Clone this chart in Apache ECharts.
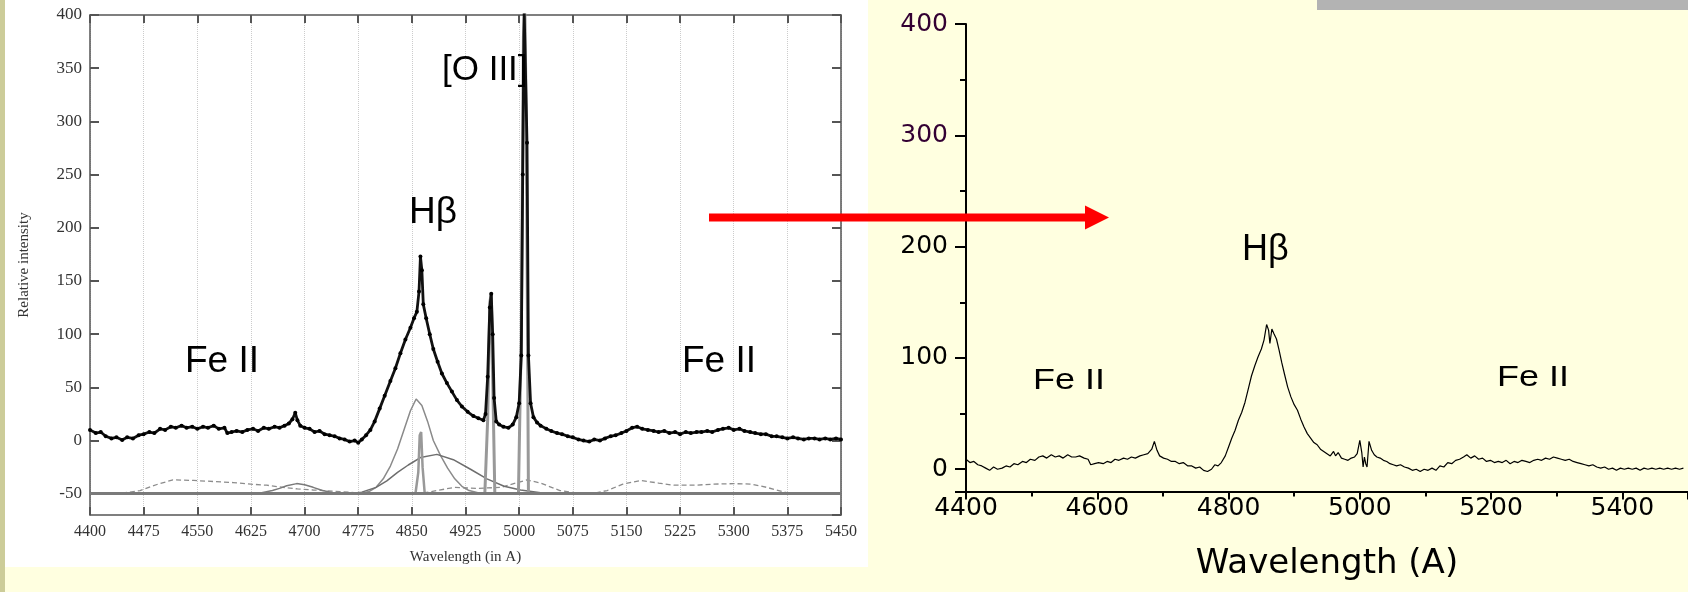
<!DOCTYPE html>
<html>
<head>
<meta charset="utf-8">
<script src="https://cdn.jsdelivr.net/npm/echarts@6/dist/echarts.min.js"></script>
<style>
  html, body { margin: 0; padding: 0; background: #ffffe0; }
  #chart { width: 1688px; height: 592px; }
</style>
</head>
<body>
<div id="chart"></div>
<script>
// left panel: observed spectrum (dots) and fitted components
var leftWave = [4400,4408,4415,4422,4430,4437,4445,4452,4460,4468,4475,4483,4490,4498,4505,4513,4520,4528,4535,4543,
  4550,4558,4565,4573,4580,4588,4592,4598,4605,4613,4620,4628,4635,4643,4650,4658,4665,4672,4678,4683,
  4687,4690,4694,4700,4707,4714,4721,4728,4735,4742,4749,4756,4763,4770,4775,4780,4786,4792,4798,4805,
  4812,4820,4827,4834,4841,4848,4853,4857,4860,4862,4864,4866,4870,4875,4880,4886,4892,4899,4906,4913,
  4920,4928,4936,4943,4950,4953,4956,4959,4961,4963,4965,4968,4972,4978,4985,4991,4996,5000,5003,5005,
  5007,5009,5011,5013,5016,5020,5025,5030,5038,5045,5053,5060,5068,5075,5083,5090,5098,5105,5113,5120,
  5128,5135,5143,5150,5158,5165,5172,5180,5188,5195,5203,5210,5218,5225,5233,5240,5248,5255,5263,5270,
  5278,5285,5293,5300,5308,5315,5323,5330,5338,5345,5353,5360,5368,5375,5383,5390,5398,5405,5413,5420,
  5428,5435,5443,5450];
var leftFlux = [10,7,8,4,2,3,0.5,3,2,5,6,8,7,11,10,13,12,14,12,13,
  11,13,12,14,11,12,7,8,9,8,10,11,9,12,11,13,12,14,16,20,
  26,19,14,12,11,8,9,6,5,4,2,1,-1,0,-2,1,5,10,18,30,
  42,56,68,82,95,106,115,121,140,173,160,128,115,100,86,74,63,54,46,38,
  32,27,23,21,19,25,60,125,138,100,40,18,15,13,12,15,22,35,80,250,
  405,405,280,80,35,22,17,14,11,9,7,6,4,3,1,0,-1,1,0,2,
  4,5,7,9,12,13,11,10,9,8,9,7,8,6,8,7,8,8,9,8,
  10,11,12,10,11,9,8,7,6,6,4,4,3,2,3,2,1,2,2,1,
  2,1,2,1];

var hbBroadWave = [4760,4780,4790,4800,4810,4820,4830,4840,4848,4856,4864,4872,4880,4890,4900,4910,4920,4930,4945,4960];
var hbBroadFlux = [-50,-49.5,-48,-44,-36,-24,-8,12,28,39,33,18,0,-14,-26,-36,-43,-47,-49.5,-50];

var wideWave = [4760,4780,4800,4815,4830,4845,4862,4885,4908,4932,4955,4979,5002,5030,5060];
var wideFlux = [-50,-48.5,-44,-38,-30,-23,-16,-13,-18,-27,-36,-43,-46.5,-49,-50];

var heWave = [4620,4640,4655,4665,4675,4689,4700,4712,4725,4740,4760];
var heFlux = [-50,-49,-47,-45,-42.5,-40.5,-41.5,-44,-47,-49,-50];

var hbNarrowWave = [4855,4859,4861,4863,4865,4868];
var hbNarrowFlux = [-50,-30,5,8,-25,-50];

var o3aWave = [4952,4956,4959,4961,4963,4966];
var o3aFlux = [-50,20,130,138,60,-50];

var o3bWave = [4999,5003,5006,5008,5010,5013];
var o3bFlux = [-50,100,380,405,300,-50];

var feWave = [4400,4440,4470,4495,4516,4545,4572,4600,4625,4647,4670,4690,4712,4750,4787,4860,4885,4910,4940,4975,
  4995,5011,5030,5057,5085,5105,5123,5145,5170,5195,5216,5245,5272,5300,5325,5346,5374,5395,5450];
var feFlux = [-50,-50,-47,-41,-37,-37.5,-38.5,-39.5,-41,-42,-44,-45.5,-46.5,-48,-50,-50,-47,-44,-45,-44,
  -40,-37,-40,-47,-50,-49.5,-47,-41,-37.5,-40,-42,-42,-41,-40.5,-41,-44,-49,-50,-50];

// right panel: spectrum
var rightWave = [4400,4406,4412,4418,4424,4430,4436,4442,4448,4455,4461,4467,4473,4479,4486,4492,4498,4505,4511,4517,
  4523,4530,4536,4542,4548,4555,4561,4567,4573,4580,4586,4590,4596,4602,4609,4615,4621,4627,4633,4640,
  4646,4652,4658,4665,4671,4677,4683,4687,4691,4695,4701,4707,4713,4719,4725,4731,4738,4744,4750,4756,
  4762,4768,4774,4779,4784,4789,4795,4800,4805,4810,4815,4820,4825,4830,4835,4840,4845,4850,4854,4858,
  4861,4863,4866,4869,4873,4877,4881,4885,4890,4895,4900,4905,4910,4915,4920,4925,4930,4935,4940,4945,
  4950,4955,4960,4963,4967,4972,4977,4982,4987,4992,4996,5000,5003,5005,5007,5009,5011,5014,5018,5022,
  5026,5031,5036,5041,5046,5051,5056,5062,5068,5074,5080,5086,5092,5098,5104,5110,5116,5122,5128,5134,
  5140,5146,5152,5158,5163,5169,5175,5181,5187,5193,5199,5205,5211,5217,5223,5229,5235,5241,5247,5253,
  5259,5265,5271,5277,5283,5289,5295,5301,5307,5313,5319,5325,5331,5337,5343,5349,5355,5361,5367,5373,
  5379,5385,5391,5397,5403,5409,5415,5421,5427,5433,5439,5445,5451,5457,5463,5469,5475,5481,5487,5493];
var rightFlux = [9,6,7,4,3,1,-1,2,0,1,3,2,5,4,7,6,9,8,11,12,
  10,13,11,12,10,13,11,11,12,10,9,4,5,6,5,7,6,9,8,10,
  9,11,10,12,13,14,18,25,17,12,10,9,7,7,5,6,3,3,1,2,
  -1,-2,0,4,3,6,12,20,28,35,44,51,60,72,84,93,101,108,116,130,
  125,113,126,122,117,107,96,86,74,65,58,53,45,38,32,28,24,22,18,16,
  14,12,16,12,15,10,9,8,10,11,14,26,15,2,11,5,2,25,17,13,
  11,10,8,7,5,4,3,4,2,1,-1,0,-2,0,-1,1,-1,3,2,6,
  5,8,9,11,13,10,12,9,10,7,8,6,7,6,8,5,7,6,8,7,
  6,8,9,8,10,9,11,10,9,8,9,7,6,5,4,3,4,2,1,2,
  0,1,-1,1,0,1,0,1,-1,1,0,1,0,1,0,1,0,1,0,1];

function pairs(xs, ys) {
    return xs.map(function (x, i) { return [x, ys[i]]; });
}

function plain(v) {
    return String(v);
}

var serif = 'Liberation Serif';

function grayLine(name, xs, ys, color, width, type) {
    return {
        name: name, type: 'line', xAxisIndex: 0, yAxisIndex: 0,
        data: pairs(xs, ys), showSymbol: false, smooth: false, z: 3,
        lineStyle: { color: color, width: width, type: type || 'solid' }
    };
}

var feSeries = grayLine('Fe II', feWave, feFlux, '#8c8c8c', 1.3, [5, 3]);
feSeries.markLine = {
    silent: true, symbol: 'none', label: { show: false },
    lineStyle: { color: '#7a7a7a', width: 3, type: 'solid' },
    data: [{ yAxis: -50 }]
};

var option = {
    backgroundColor: '#ffffe0',
    animation: false,
    grid: [
        { left: 90, top: 15, width: 751, height: 500 },
        { left: 966, top: 24, width: 728, height: 467.5 }
    ],
    xAxis: [
        {
            gridIndex: 0, type: 'value', min: 4400, max: 5450, interval: 75, position: 'bottom',
            axisLine: { onZero: false, lineStyle: { color: '#555', width: 1.5 } },
            axisTick: { inside: true, length: 8, lineStyle: { color: '#555', width: 2 } },
            axisLabel: { fontFamily: serif, fontSize: 16, color: '#333', margin: 9, formatter: plain },
            splitLine: { show: true, lineStyle: { type: 'dotted', color: '#cccccc' } },
            name: 'Wavelength (in A)', nameLocation: 'middle', nameGap: 35,
            nameTextStyle: { fontFamily: serif, fontSize: 15, color: '#333' }
        },
        {
            gridIndex: 0, type: 'value', min: 4400, max: 5450, interval: 75, position: 'top',
            axisLine: { onZero: false, lineStyle: { color: '#555', width: 1.5 } },
            axisTick: { inside: true, length: 8, lineStyle: { color: '#555', width: 2 } },
            axisLabel: { show: false }, splitLine: { show: false }
        },
        {
            gridIndex: 1, type: 'value', min: 4400, max: 5500, interval: 200, position: 'bottom',
            axisLine: { onZero: false, lineStyle: { color: '#000', width: 2 } },
            axisTick: { length: 8, lineStyle: { color: '#000', width: 2 } },
            minorTick: { show: true, splitNumber: 2, length: 5, lineStyle: { color: '#000', width: 2 } },
            axisLabel: { fontFamily: 'DejaVu Sans', fontSize: 25, color: '#000', margin: 4, showMaxLabel: false, formatter: plain },
            splitLine: { show: false },
            name: 'Wavelength (A)', nameLocation: 'middle', nameGap: 56,
            nameTextStyle: { fontFamily: 'DejaVu Sans', fontSize: 34, color: '#000' }
        }
    ],
    yAxis: [
        {
            gridIndex: 0, type: 'value', min: -70, max: 400, minInterval: 50, maxInterval: 50,
            axisLine: { onZero: false, lineStyle: { color: '#555', width: 1.5 } },
            axisTick: { inside: true, length: 9, lineStyle: { color: '#555', width: 2 } },
            axisLabel: { fontFamily: serif, fontSize: 17, color: '#333', margin: 8, showMinLabel: false, formatter: plain },
            splitLine: { show: false },
            name: 'Relative intensity', nameLocation: 'middle', nameGap: 58,
            nameTextStyle: { fontFamily: serif, fontSize: 15, color: '#333' }
        },
        {
            gridIndex: 0, type: 'value', min: -70, max: 400, minInterval: 50, maxInterval: 50, position: 'right',
            axisLine: { onZero: false, lineStyle: { color: '#555', width: 1.5 } },
            axisTick: { inside: true, length: 9, lineStyle: { color: '#555', width: 2 } },
            axisLabel: { show: false }, splitLine: { show: false }
        },
        {
            gridIndex: 1, type: 'value', min: -20, max: 400, minInterval: 100, maxInterval: 100,
            axisLine: { onZero: false, lineStyle: { color: '#000', width: 2 } },
            axisTick: { length: 11, lineStyle: { color: '#000', width: 2 } },
            minorTick: { show: true, splitNumber: 2, length: 6, lineStyle: { color: '#000', width: 2 } },
            axisLabel: {
                fontFamily: 'DejaVu Sans', fontSize: 25, margin: 18, showMinLabel: false, formatter: plain,
                color: function (v) { return Number(v) >= 300 ? '#330033' : '#000'; }
            },
            splitLine: { show: false }
        }
    ],
    series: [
        feSeries,
        grayLine('Hβ broad', hbBroadWave, hbBroadFlux, '#8a8a8a', 1.5),
        grayLine('Hβ wide', wideWave, wideFlux, '#6e6e6e', 1.5),
        grayLine('He II', heWave, heFlux, '#7a7a7a', 1.5),
        grayLine('Hβ narrow', hbNarrowWave, hbNarrowFlux, '#999', 2.5),
        grayLine('[O III] 4959', o3aWave, o3aFlux, '#999', 3),
        grayLine('[O III] 5007', o3bWave, o3bFlux, '#999', 3),
        {
            name: 'observed', type: 'line', xAxisIndex: 0, yAxisIndex: 0,
            data: pairs(leftWave, leftFlux), z: 5,
            symbol: 'circle', symbolSize: 4, showSymbol: true,
            itemStyle: { color: '#000' },
            lineStyle: { color: '#111', width: 2.8 }
        },
        {
            name: 'spectrum', type: 'line', xAxisIndex: 2, yAxisIndex: 2,
            data: pairs(rightWave, rightFlux), showSymbol: false, z: 5,
            lineStyle: { color: '#000', width: 1.2 }
        }
    ],
    graphic: [
        { type: 'rect', z: -10, shape: { x: 0, y: 0, width: 5, height: 592 }, style: { fill: '#cccc99' } },
        { type: 'rect', z: -10, shape: { x: 5, y: 0, width: 863, height: 567 }, style: { fill: '#ffffff' } },
        { type: 'rect', z: 50, shape: { x: 1317, y: 0, width: 371, height: 10 }, style: { fill: '#b3b3b3' } },
        { type: 'line', z: 50, shape: { x1: 709, y1: 217.5, x2: 1088, y2: 217.5 }, style: { stroke: '#ff0000', lineWidth: 8 } },
        { type: 'polygon', z: 50, shape: { points: [[1085, 205.5], [1109, 217.5], [1085, 229.5]] }, style: { fill: '#ff0000' } },
        { type: 'text', z: 50, x: 442, y: 70, style: { text: '[O III]', font: '35px "Liberation Sans"', fill: '#000', textVerticalAlign: 'middle' } },
        { type: 'text', z: 50, x: 409, y: 213, style: { text: 'Hβ', font: '37px "Liberation Sans"', fill: '#000', textVerticalAlign: 'middle' } },
        { type: 'text', z: 50, x: 185, y: 362, style: { text: 'Fe II', font: '37px "Liberation Sans"', fill: '#000', textVerticalAlign: 'middle' } },
        { type: 'text', z: 50, x: 682, y: 362, style: { text: 'Fe II', font: '37px "Liberation Sans"', fill: '#000', textVerticalAlign: 'middle' } },
        { type: 'text', z: 50, x: 1242, y: 250, style: { text: 'Hβ', font: '36px "Liberation Sans"', fill: '#000', textVerticalAlign: 'middle' } },
        { type: 'text', z: 50, x: 1033, y: 380.5, scaleX: 1.24, style: { text: 'Fe II', font: '29px "Liberation Sans"', fill: '#000', textVerticalAlign: 'middle' } },
        { type: 'text', z: 50, x: 1497, y: 377.5, scaleX: 1.24, style: { text: 'Fe II', font: '29px "Liberation Sans"', fill: '#000', textVerticalAlign: 'middle' } }
    ]
};

var chart = echarts.init(document.getElementById('chart'));
chart.setOption(option);
</script>
</body>
</html>
